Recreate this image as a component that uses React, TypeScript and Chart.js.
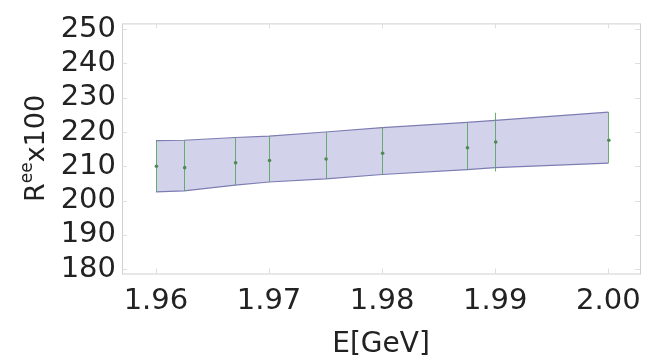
import React, { useEffect, useRef } from "react";
import { Chart, registerables } from "chart.js";

Chart.register(...registerables);

const energies = [1.96, 1.9625, 1.967, 1.97, 1.975, 1.98, 1.9875, 1.99, 2.0];
const ratio = [210.0, 209.6, 211.0, 211.7, 212.1, 213.8, 215.4, 217.1, 217.6];
const errLow = [202.5, 202.8, 204.5, 205.4, 206.3, 207.6, 209.0, 208.5, 210.9];
const errHigh = [217.5, 217.6, 218.4, 218.8, 220.0, 221.3, 222.8, 225.6, 225.8];
const bandUpper = [217.5, 217.6, 218.4, 218.8, 220.0, 221.3, 222.8, 223.4, 225.8];
const bandLower = [202.5, 202.8, 204.5, 205.4, 206.3, 207.6, 209.0, 209.6, 210.9];
const xTicks = [1.96, 1.97, 1.98, 1.99, 2.0];
const yTicks = [180, 190, 200, 210, 220, 230, 240, 250];

const FONT = "'DejaVu Sans', sans-serif";

const framePlugin = {
  id: "frame",
  beforeDatasetsDraw(chart: any) {
    const { ctx, chartArea: a, scales } = chart;
    ctx.save();
    ctx.strokeStyle = "#cfcfcf";
    ctx.lineWidth = 1;
    ctx.strokeRect(a.left + 0.5, a.top + 0.5, a.right - a.left, a.bottom - a.top);
    ctx.strokeStyle = "#dedede";
    ctx.beginPath();
    xTicks.forEach((v) => {
      const x = Math.round(scales.x.getPixelForValue(v)) + 0.5;
      ctx.moveTo(x, a.bottom);
      ctx.lineTo(x, a.bottom - 5);
      ctx.moveTo(x, a.top);
      ctx.lineTo(x, a.top + 5);
    });
    yTicks.forEach((v) => {
      const y = Math.round(scales.y.getPixelForValue(v)) + 0.5;
      ctx.moveTo(a.left, y);
      ctx.lineTo(a.left + 5, y);
      ctx.moveTo(a.right, y);
      ctx.lineTo(a.right - 5, y);
    });
    ctx.stroke();
    ctx.restore();
  },
};

const errorBarPlugin = {
  id: "errorBars",
  afterDatasetsDraw(chart: any) {
    const { ctx, scales } = chart;
    ctx.save();
    ctx.strokeStyle = "rgba(90,165,95,0.9)";
    ctx.lineWidth = 1;
    energies.forEach((e, i) => {
      const x = Math.round(scales.x.getPixelForValue(e)) + 0.5;
      ctx.beginPath();
      ctx.moveTo(x, scales.y.getPixelForValue(errLow[i]));
      ctx.lineTo(x, scales.y.getPixelForValue(errHigh[i]));
      ctx.stroke();
    });
    ctx.fillStyle = "#4f8a55";
    energies.forEach((e, i) => {
      const x = scales.x.getPixelForValue(e);
      const y = scales.y.getPixelForValue(ratio[i]);
      ctx.beginPath();
      ctx.arc(x + 0.5, y, 1.8, 0, Math.PI * 2);
      ctx.fill();
    });
    ctx.restore();
  },
};

const yTitlePlugin = {
  id: "yTitle",
  afterDraw(chart: any) {
    const { ctx, chartArea: a } = chart;
    const big = `27px ${FONT}`;
    const small = `17px ${FONT}`;
    ctx.save();
    ctx.font = big;
    const wR = ctx.measureText("R").width;
    const wX = ctx.measureText("x100").width;
    ctx.font = small;
    const wE = ctx.measureText("ee").width;
    const total = wR + wE + wX;
    const cy = (a.top + a.bottom) / 2;
    ctx.translate(44, cy);
    ctx.rotate(-Math.PI / 2);
    ctx.fillStyle = "#222";
    ctx.textBaseline = "alphabetic";
    let x = -total / 2;
    ctx.font = big;
    ctx.fillText("R", x, 0);
    x += wR;
    ctx.font = small;
    ctx.fillText("ee", x, -12);
    x += wE;
    ctx.font = big;
    ctx.fillText("x100", x, 0);
    ctx.restore();
  },
};

export default function App() {
  const ref = useRef<HTMLCanvasElement | null>(null);
  useEffect(() => {
    document.body.style.margin = "0";
    if (!ref.current) return;
    const pts = (ys: number[]) => energies.map((x, i) => ({ x, y: ys[i] }));
    const chart = new Chart(ref.current, {
      type: "scatter",
      data: {
        datasets: [
          {
            label: "upper",
            data: pts(bandUpper),
            showLine: true,
            borderColor: "rgb(125,125,180)",
            borderWidth: 1.2,
            pointRadius: 0,
            fill: false,
          },
          {
            label: "lower",
            data: pts(bandLower),
            showLine: true,
            borderColor: "rgb(125,125,180)",
            borderWidth: 1.2,
            pointRadius: 0,
            backgroundColor: "rgba(210,210,235,1)",
            fill: "-1",
          },
        ],
      },
      options: {
        animation: false,
        responsive: false,
        maintainAspectRatio: false,
        layout: { padding: { left: 0, top: 15, right: 26, bottom: 0 } },
        plugins: { legend: { display: false }, tooltip: { enabled: false } },
        scales: {
          x: {
            type: "linear",
            min: 1.957,
            max: 2.0028,
            grid: { display: false, drawTicks: false },
            border: { display: false },
            afterBuildTicks: (s: any) => {
              s.ticks = xTicks.map((v) => ({ value: v }));
            },
            afterFit: (s: any) => {
              s.height = 88.5;
            },
            ticks: {
              padding: 11,
              autoSkip: false,
              maxRotation: 0,
              color: "#222",
              font: { family: FONT, size: 29 },
              callback: (v: any) => Number(v).toFixed(2),
            },
            title: {
              display: true,
              text: "E[GeV]",
              color: "#222",
              font: { family: FONT, size: 28 },
              padding: { top: 2, bottom: 0 },
            },
          },
          y: {
            type: "linear",
            min: 178.7,
            max: 251.7,
            grid: { display: false, drawTicks: false },
            border: { display: false },
            afterBuildTicks: (s: any) => {
              s.ticks = yTicks.map((v) => ({ value: v }));
            },
            afterFit: (s: any) => {
              s.width = 122;
            },
            ticks: {
              padding: 6,
              autoSkip: false,
              color: "#222",
              font: { family: FONT, size: 29 },
              callback: (v: any) => String(v),
            },
          },
        },
      },
      plugins: [framePlugin, errorBarPlugin, yTitlePlugin],
    } as any);
    return () => chart.destroy();
  }, []);
  return (
    <div style={{ position: "absolute", left: 0, top: 0, width: 666, height: 362, background: "#fff" }}>
      <canvas ref={ref} width={666} height={362} style={{ width: 666, height: 362 }} />
    </div>
  );
}
